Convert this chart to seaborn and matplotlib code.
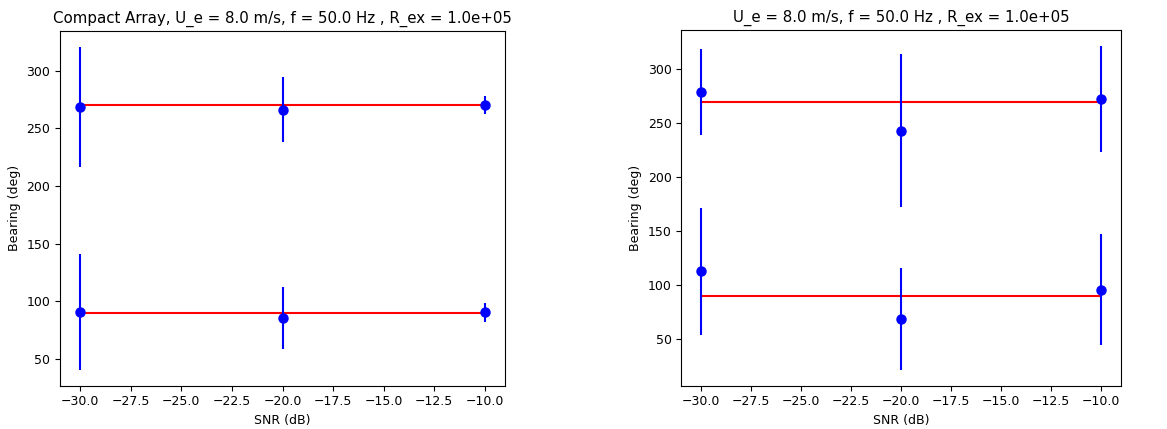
import numpy as np
import pandas as pd
import matplotlib
matplotlib.use('Agg')
import matplotlib.pyplot as plt
import seaborn as sns

'''Data'''
snr = [-30.0, -20.0, -10.0]
true_bearings = [270.0, 90.0]

#Compact array: mean bearing and error per source
compact_mean_1 = [268.8, 266.2, 270.2]
compact_err_1 = [52.0, 28.0, 8.0]
compact_mean_2 = [90.7, 85.2, 90.4]
compact_err_2 = [50.0, 27.0, 8.0]

#Second array
other_mean_1 = [278.9, 243.0, 272.4]
other_err_1 = [39.5, 71.0, 49.0]
other_mean_2 = [112.5, 68.6, 95.5]
other_err_2 = [58.5, 47.0, 51.5]

title_compact = 'Compact Array, U_e = 8.0 m/s, f = 50.0 Hz , R_ex = 1.0e+05'
title_other = 'U_e = 8.0 m/s, f = 50.0 Hz , R_ex = 1.0e+05'

'''Plot'''
plt.rcParams['font.family'] = ['DejaVu Sans']
plt.rcParams['font.size'] = 9

fig = plt.figure(figsize=(11.67, 4.29), dpi=100)
ax1 = fig.add_axes([60/1167, 43.3/429, 445/1167, 355/429])
ax2 = fig.add_axes([681.3/1167, 43.3/429, 439.4/1167, 355.7/429])


def draw_panel(ax, means, errs, title):
    for b in true_bearings:
        line_df = pd.DataFrame({'snr': snr, 'bearing': [b]*len(snr)})
        sns.lineplot(data=line_df, x='snr', y='bearing', color='red',
                     linewidth=1.5, ax=ax, legend=False)
    for m, e in zip(means, errs):
        ax.errorbar(snr, m, yerr=e, fmt='o', color='blue', ecolor='blue',
                    markersize=6.5, elinewidth=1.5, zorder=3)
    ax.set_xlabel('SNR (dB)', fontsize=9)
    ax.set_ylabel('Bearing (deg)', fontsize=9)
    ax.set_title(title, fontsize=10.8)
    ax.tick_params(labelsize=9)


draw_panel(ax1, [compact_mean_1, compact_mean_2],
           [compact_err_1, compact_err_2], title_compact)
draw_panel(ax2, [other_mean_1, other_mean_2],
           [other_err_1, other_err_2], title_other)

plt.savefig('out.png', dpi=100)
